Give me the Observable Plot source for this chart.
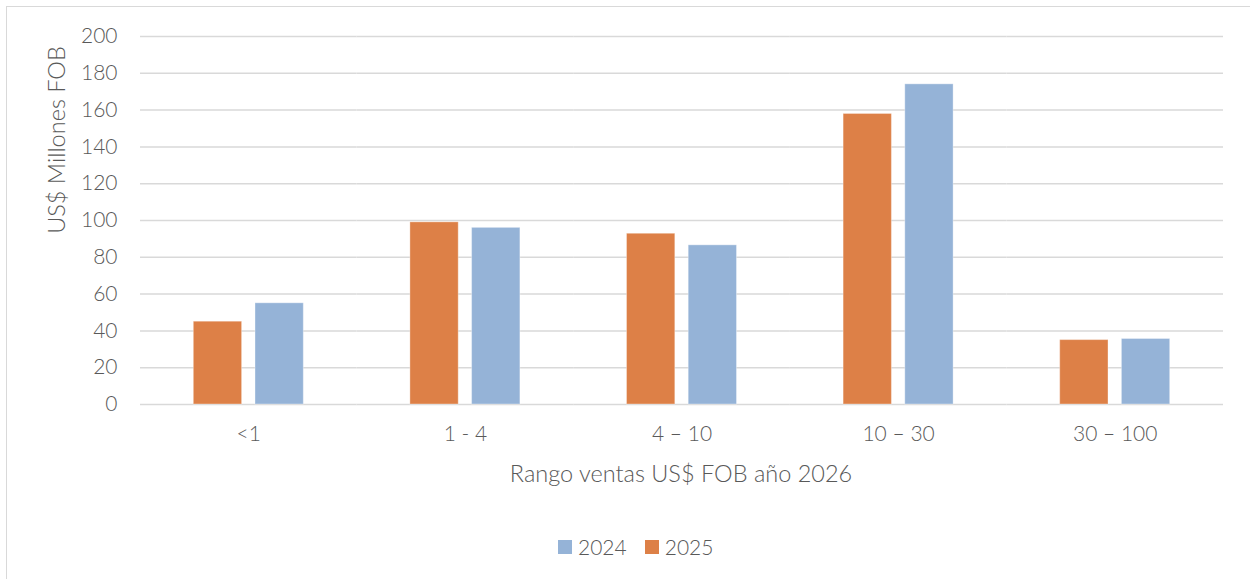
<!DOCTYPE html>
<html>
<head>
<meta charset="utf-8">
<script src="https://cdn.jsdelivr.net/npm/d3@7"></script>
<script src="https://cdn.jsdelivr.net/npm/@observablehq/plot@0.6"></script>
<style>
  html, body { margin: 0; padding: 0; background: #fff; overflow: hidden; }
  body { width: 1250px; height: 579px; position: relative; font-family: Lato, "Open Sans", sans-serif; font-weight: 300; color: #595959; }
  #frame { position: absolute; left: 6px; top: 6px; width: 1400px; height: 800px; border: 1.5px solid #d9d9d9; box-sizing: border-box; }
  #chart { position: absolute; left: 0; top: 0; }
  #chart text { font-weight: 300; }
  .ttl { position: absolute; white-space: nowrap; line-height: 1; font-size: 23.5px; color: #595959; font-weight: 300; }
  #ylab { left: 57px; top: 140px; transform: translate(-50%, -50%) rotate(-90deg); }
  #xlab { left: 681px; top: 474px; transform: translate(-50%, -50%); }
  #legend { position: absolute; left: 558px; top: 536px; display: flex; align-items: center; font-size: 21px; line-height: 1; font-weight: 300; }
  #legend .sw { width: 14px; height: 14px; display: inline-block; margin-right: 6px; }
  #legend .item { display: flex; align-items: center; margin-right: 18px; }
</style>
</head>
<body>
<div id="frame"></div>
<div id="chart"></div>
<div class="ttl" id="ylab">US$ Millones FOB</div>
<div class="ttl" id="xlab">Rango ventas US$ FOB año 2026</div>
<div id="legend"></div>
<script>
const categories = ["<1", "1 - 4", "4 – 10", "10 – 30", "30 – 100"];
const values2025 = [45, 99, 92.8, 157.9, 35];
const values2024 = [55, 96, 86.5, 174, 35.6];
const seriesOrder = ["2025", "2024"];
const legendOrder = ["2024", "2025"];
const colors = {"2024": "#95B3D7", "2025": "#DD8047"};
const yTicks = [0, 20, 40, 60, 80, 100, 120, 140, 160, 180, 200];

const data = [];
categories.forEach((c, i) => {
  data.push({cat: c, year: "2025", value: values2025[i]});
  data.push({cat: c, year: "2024", value: values2024[i]});
});

const chart = Plot.plot({
  width: 1250,
  height: 500,
  marginLeft: 140,
  marginRight: 27,
  marginTop: 36,
  marginBottom: 96,
  style: {background: "transparent", fontFamily: "Lato, 'Open Sans', sans-serif", color: "#595959"},
  fx: {domain: categories, padding: 0, round: false},
  x: {domain: seriesOrder, paddingInner: 0.217, paddingOuter: 0.864, round: false, axis: null},
  y: {domain: [0, 200]},
  color: {domain: legendOrder, range: legendOrder.map(k => colors[k])},
  marks: [
    Plot.gridY(yTicks, {stroke: "#d9d9d9", strokeOpacity: 1, strokeWidth: 1.5}),
    Plot.barY(data, {fx: "cat", x: "year", y: "value", fill: "year", stroke: "#ffffff", strokeOpacity: 0.35, strokeWidth: 1}),
    Plot.axisY(yTicks, {tickSize: 0, tickPadding: 23, label: null, fontSize: 21, fill: "#595959"}),
    Plot.axisFx({anchor: "bottom", tickSize: 0, tickPadding: 22, label: null, fontSize: 21, fill: "#595959"})
  ]
});
document.getElementById("chart").appendChild(chart);

const leg = document.getElementById("legend");
legendOrder.forEach(k => {
  const item = document.createElement("div");
  item.className = "item";
  const sw = document.createElement("span");
  sw.className = "sw";
  sw.style.background = colors[k];
  const t = document.createElement("span");
  t.textContent = k;
  item.appendChild(sw);
  item.appendChild(t);
  leg.appendChild(item);
});
</script>
</body>
</html>
